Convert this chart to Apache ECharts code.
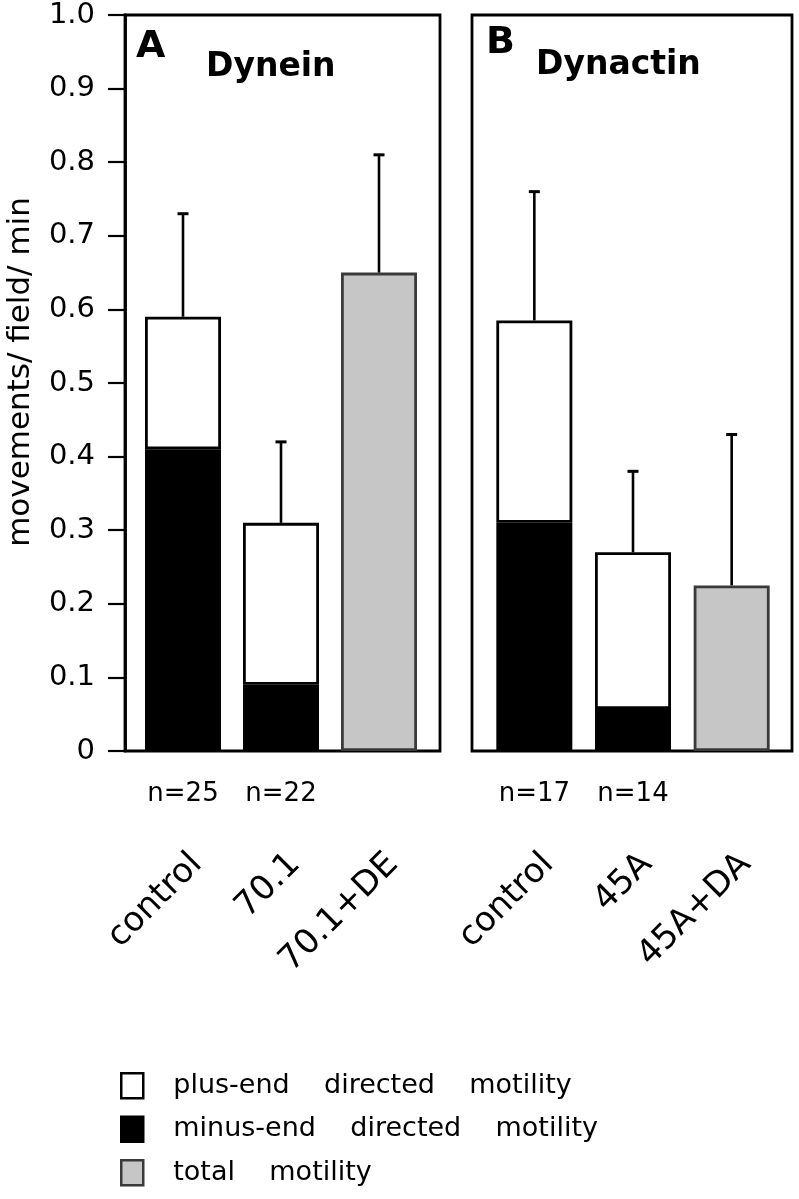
<!DOCTYPE html>
<html>
<head>
<meta charset="utf-8">
<title>Dynein / Dynactin motility</title>
<script src="https://cdn.jsdelivr.net/npm/echarts@6/dist/echarts.min.js"></script>
<style>
    html, body { margin: 0; padding: 0; background: #fff; }
    #chart { width: 799px; height: 1199px; }
</style>
</head>
<body>
<div id="chart"></div>
<script>
// panel A - dynein
const catsA = ['control', '70.1', '70.1+DE'];
const nA = ['n=25', 'n=22', ''];
const minusA = [0.41, 0.09, null];
const plusA = [0.18, 0.22, null];
const totalA = [null, null, 0.65];
const errA = [0.73, 0.42, 0.81];

// panel B - dynactin
const catsB = ['control', '45A', '45A+DA'];
const nB = ['n=17', 'n=14', ''];
const minusB = [0.31, 0.057, null];
const plusB = [0.275, 0.213, null];
const totalB = [null, null, 0.225];
const errB = [0.76, 0.38, 0.43];

const yTicks = ['0', '0.1', '0.2', '0.3', '0.4', '0.5', '0.6', '0.7', '0.8', '0.9', '1.0'];

const FONT = 'DejaVu Sans';
const PLUS = 'plus-end directed motility';
const MINUS = 'minus-end directed motility';
const TOTAL = 'total motility';

let chart = echarts.init(document.getElementById('chart'));

function hiddenX(grid) {
    return { type: 'value', gridIndex: grid, show: false, min: 0, max: 1 };
}
function hiddenY(grid) {
    return { type: 'value', gridIndex: grid, show: false, min: 0, max: 1 };
}
function nAxis(grid, cats, nLabels) {
    return {
        type: 'category', gridIndex: grid, data: cats,
        axisLine: { show: false }, axisTick: { show: false },
        axisLabel: {
            interval: 0, margin: 30, fontSize: 26, fontFamily: FONT, color: '#000',
            formatter: (v, i) => nLabels[i]
        }
    };
}
function nameAxis(grid, cats) {
    return {
        type: 'category', gridIndex: grid, data: cats,
        axisLine: { show: false }, axisTick: { show: false },
        axisLabel: { interval: 0, rotate: 45, margin: 108, fontSize: 34, fontFamily: FONT, color: '#000' }
    };
}

function barSeries(name, axis, data, color, border) {
    return {
        name: name, type: 'bar', stack: 'p' + axis,
        xAxisIndex: axis, yAxisIndex: axis,
        barWidth: 76, data: data,
        itemStyle: { color: color, borderColor: border, borderWidth: 2.8 }
    };
}

function errSeries(axis, minus, plus, total, err) {
    let data = err.map((e, i) => [i, (minus[i] || 0) + (plus[i] || 0) + (total[i] || 0), e]);
    return {
        type: 'custom', xAxisIndex: axis, yAxisIndex: axis, z: 5,
        data: data,
        renderItem: function (params, api) {
            let base = api.coord([api.value(0), api.value(1)]);
            let top = api.coord([api.value(0), api.value(2)]);
            let style = { stroke: '#000', lineWidth: 2.6 };
            return {
                type: 'group',
                children: [
                    { type: 'line', shape: { x1: base[0], y1: base[1], x2: top[0], y2: top[1] }, style: style },
                    { type: 'line', shape: { x1: top[0] - 5.5, y1: top[1], x2: top[0] + 5.5, y2: top[1] }, style: { stroke: '#000', lineWidth: 3 } }
                ]
            };
        }
    };
}

const plain = { top: 15, bottom: 448, outerBoundsMode: 'none', containLabel: false };
const boxGrid = Object.assign({ show: true, borderColor: '#000', borderWidth: 2.8, backgroundColor: 'transparent' }, plain);

chart.setOption({
    animation: false,
    title: [
        { text: 'A', left: 136, top: 28, padding: 0, textStyle: { fontSize: 38, fontWeight: 'bold', fontFamily: FONT, color: '#000' } },
        { text: 'Dynein', left: 206, top: 51, padding: 0, textStyle: { fontSize: 33, fontWeight: 'bold', fontFamily: FONT, color: '#000' } },
        { text: 'B', left: 486, top: 24, padding: 0, textStyle: { fontSize: 38, fontWeight: 'bold', fontFamily: FONT, color: '#000' } },
        { text: 'Dynactin', left: 536, top: 49, padding: 0, textStyle: { fontSize: 33, fontWeight: 'bold', fontFamily: FONT, color: '#000' } }
    ],
    legend: {
        data: [PLUS, MINUS, TOTAL],
        orient: 'vertical', left: 120, top: 1072, padding: 0,
        itemWidth: 22, itemHeight: 25, itemGap: 16,
        icon: 'rect',
        itemStyle: { borderWidth: 2.5 },
        formatter: name => name.split(' ').join('    '),
        textStyle: { fontSize: 27, fontFamily: FONT, color: '#000', padding: [0, 0, 0, 25] }
    },
    grid: [
        Object.assign({ left: 125, right: 359 }, boxGrid),   // 0 box A
        Object.assign({ left: 134, right: 371 }, plain),     // 1 data A
        Object.assign({ left: 148, right: 357 }, plain),     // 2 labels A
        Object.assign({ left: 472, right: 7 }, boxGrid),     // 3 box B
        Object.assign({ left: 485, right: 18 }, plain),      // 4 data B
        Object.assign({ left: 499, right: 4 }, plain)        // 5 labels B
    ],
    xAxis: [
        hiddenX(0),
        nAxis(1, catsA, nA),
        nameAxis(2, catsA),
        hiddenX(3),
        nAxis(4, catsB, nB),
        nameAxis(5, catsB)
    ],
    yAxis: [
        {
            type: 'value', gridIndex: 0, min: 0, max: 1, interval: 0.1,
            name: 'movements/ field/ min', nameLocation: 'middle', nameGap: 89, nameRotate: 90,
            nameTextStyle: { fontSize: 31, fontFamily: FONT, color: '#000', padding: [0, 0, 0, 22] },
            axisLine: { show: true, lineStyle: { color: '#000', width: 2.8 } },
            axisTick: { show: true, length: 17, lineStyle: { color: '#000', width: 2.2 } },
            axisLabel: {
                margin: 30, fontSize: 29, fontFamily: FONT, color: '#000',
                formatter: v => yTicks[Math.round(v * 10)]
            },
            splitLine: { show: false }
        },
        hiddenY(1), hiddenY(2), hiddenY(3), hiddenY(4), hiddenY(5)
    ],
    series: [
        barSeries(MINUS, 1, minusA, '#000', '#000'),
        barSeries(PLUS, 1, plusA, '#fff', '#000'),
        barSeries(TOTAL, 1, totalA, '#c6c6c6', '#3a3a3a'),
        errSeries(1, minusA, plusA, totalA, errA),
        barSeries(MINUS, 4, minusB, '#000', '#000'),
        barSeries(PLUS, 4, plusB, '#fff', '#000'),
        barSeries(TOTAL, 4, totalB, '#c6c6c6', '#3a3a3a'),
        errSeries(4, minusB, plusB, totalB, errB)
    ]
});
</script>
</body>
</html>
